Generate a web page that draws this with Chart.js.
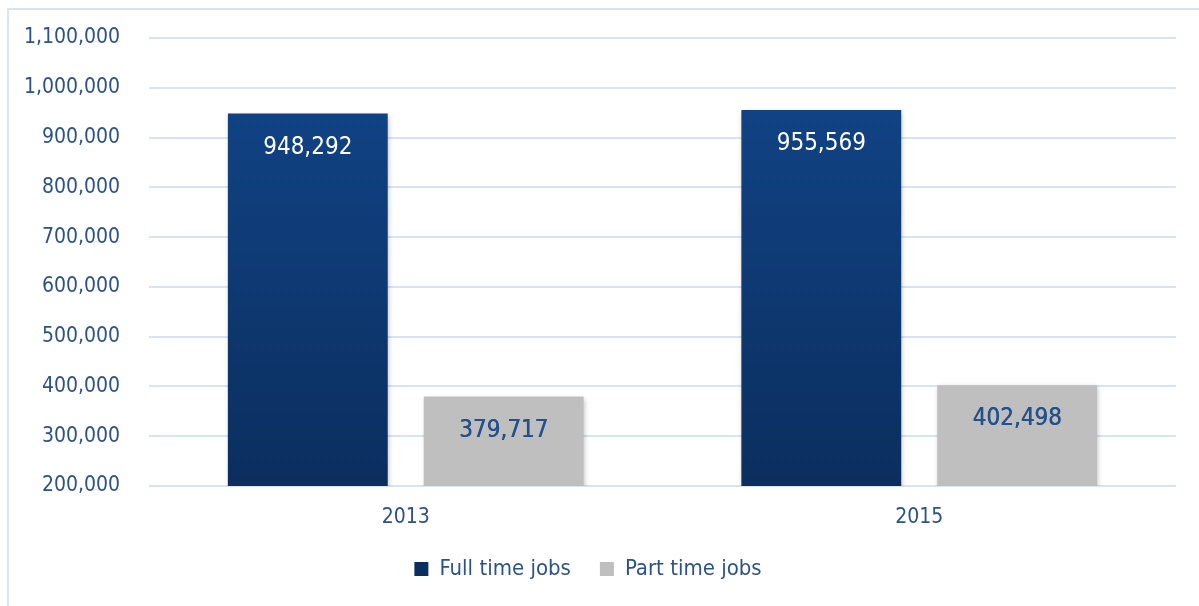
<!DOCTYPE html>
<html>
<head>
<meta charset="utf-8">
<script src="https://cdn.jsdelivr.net/npm/chart.js@4.4.0/dist/chart.umd.min.js"></script>
<style>
  html, body { margin: 0; padding: 0; background: #ffffff; }
  #frame { position: absolute; left: 7px; top: 8px; width: 1200px; height: 610px; border: 2px solid #dae3f0; box-sizing: border-box; }
  #wrap { position: absolute; left: 0; top: 0; width: 1199px; height: 606px; }
</style>
</head>
<body>
<div id="frame"></div>
<div id="wrap"><canvas id="c"></canvas></div>
<script>
const categories = ['2013', '2015'];
const fullTimeJobs = [948292, 955569];
const partTimeJobs = [379717, 402498];
const seriesNames = ['Full time jobs', 'Part time jobs'];

const textBlue = '#2d5287';
const fontFamily = "'DejaVu Sans Condensed', 'Liberation Sans Narrow', 'Roboto', sans-serif";

function fullGradient(context) {
  const chart = context.chart;
  const area = chart.chartArea;
  if (!area) return '#12458a';
  const g = chart.ctx.createLinearGradient(0, area.top, 0, area.bottom);
  g.addColorStop(0, '#12468b');
  g.addColorStop(1, '#0b2e5e');
  return g;
}

const shadowPlugin = {
  id: 'barShadow',
  beforeDatasetDraw(chart) {
    const ctx = chart.ctx;
    ctx.save();
    ctx.shadowColor = 'rgba(0,0,0,0.25)';
    ctx.shadowBlur = 5;
    ctx.shadowOffsetX = 1;
    ctx.shadowOffsetY = 2;
  },
  afterDatasetDraw(chart) {
    chart.ctx.restore();
  }
};

const labelPlugin = {
  id: 'barLabels',
  afterDatasetsDraw(chart) {
    const ctx = chart.ctx;
    ctx.save();
    ctx.textAlign = 'center';
    ctx.textBaseline = 'middle';
    chart.data.datasets.forEach((ds, di) => {
      const meta = chart.getDatasetMeta(di);
      meta.data.forEach((bar, i) => {
        const v = ds.data[i];
        ctx.font = "24px " + fontFamily;
        ctx.fillStyle = di === 0 ? '#ffffff' : '#25508a';
        ctx.fillText(v.toLocaleString('en-US'), bar.x, bar.y + 34);
        if (di === 1) ctx.fillText(v.toLocaleString('en-US'), bar.x + 0.5, bar.y + 34);
      });
    });
    ctx.restore();
  }
};

new Chart(document.getElementById('c'), {
  type: 'bar',
  data: {
    labels: categories,
    datasets: [
      { label: seriesNames[0], data: fullTimeJobs, backgroundColor: fullGradient, borderWidth: 0 },
      { label: seriesNames[1], data: partTimeJobs, backgroundColor: '#bfbfbf', borderWidth: 0 }
    ]
  },
  options: {
    responsive: true,
    maintainAspectRatio: false,
    animation: false,
    categoryPercentage: 0.763,
    barPercentage: 0.816,
    layout: { padding: { top: 38, right: 23, left: 0, bottom: 16 } },
    plugins: {
      legend: {
        position: 'bottom',
        labels: {
          boxWidth: 14, boxHeight: 14, padding: 29,
          color: textBlue,
          font: { family: fontFamily, size: 22, lineHeight: 1 }
        }
      },
      tooltip: { enabled: false }
    },
    scales: {
      x: {
        afterFit(scale) { scale.height = 43; },
        grid: { display: false, drawTicks: false },
        border: { display: false },
        ticks: { color: textBlue, font: { family: fontFamily, size: 21, lineHeight: 1 }, padding: 21 }
      },
      y: {
        min: 200000,
        max: 1100000,
        afterFit(scale) { scale.width = 149; scale.paddingTop = 0; scale.paddingBottom = 0; },
        grid: { color: '#d8e3f3', lineWidth: 2, drawTicks: false },
        border: { display: false },
        ticks: {
          stepSize: 100000,
          padding: 29,
          color: textBlue,
          font: { family: fontFamily, size: 21 },
          callback: v => v.toLocaleString('en-US')
        }
      }
    }
  },
  plugins: [shadowPlugin, labelPlugin]
});
</script>
</body>
</html>
